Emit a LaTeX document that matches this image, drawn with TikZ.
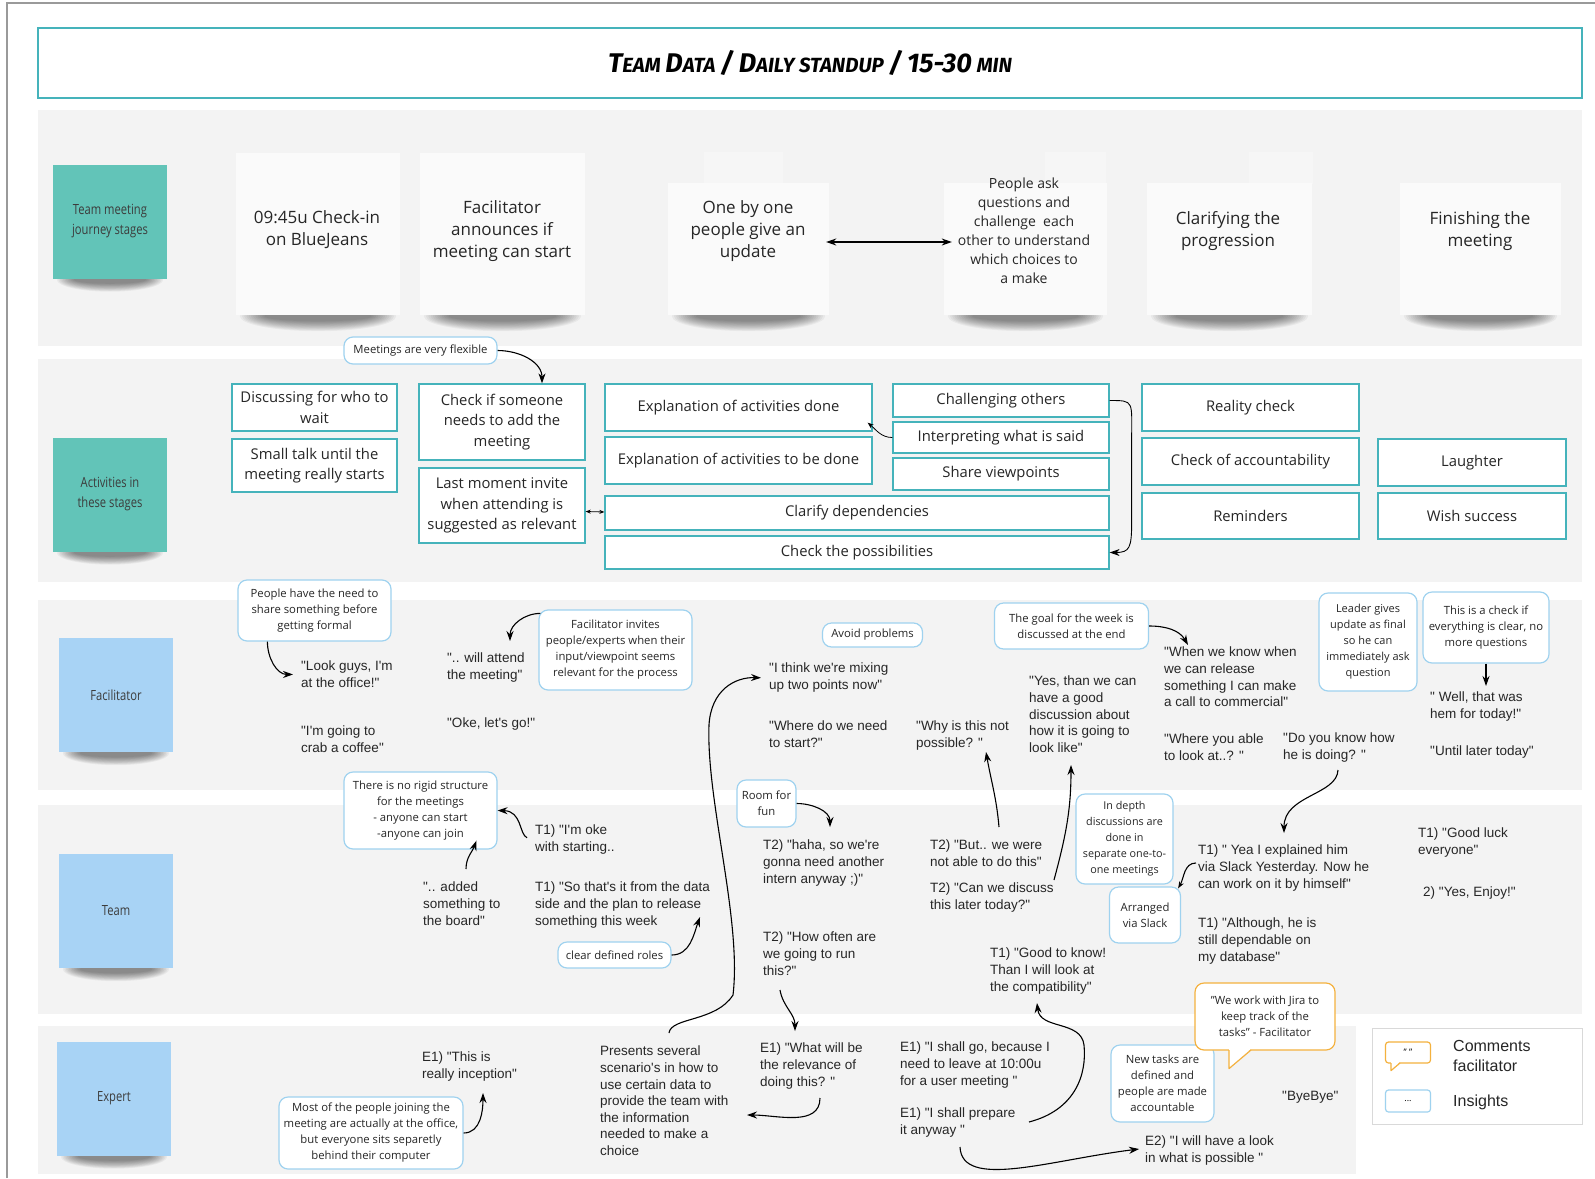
\documentclass[tikz,border=0pt]{standalone}
\usepackage{fontspec}
\setmainfont{Open Sans}
\newfontfamily\quotefont{Liberation Sans}
\newfontfamily\headfont{Fira Sans}
\newfontfamily\notefont[FakeStretch=0.8]{Open Sans}
\usetikzlibrary{arrows.meta,calc}

\definecolor{boxteal}{HTML}{45B3BB}
\definecolor{insightblue}{HTML}{9FD2EF}
\definecolor{noteteal}{HTML}{62C4B8}
\definecolor{noteblue}{HTML}{A8D3F5}
\definecolor{jiraorange}{HTML}{F4B13E}
\definecolor{bandgray}{HTML}{F3F3F3}
\definecolor{cardwhite}{HTML}{FAFAFA}
\definecolor{tabwhite}{HTML}{F6F6F6}
\definecolor{inkc}{HTML}{262626}
\definecolor{framegray}{HTML}{9A9A9A}

\pgfdeclarelayer{bands}
\pgfdeclarelayer{shadows}
\pgfsetlayers{bands,shadows,main}

\newcommand\headbig[1]{{\fontsize{27}{27}\selectfont #1}}
\newcommand\headsmall[1]{{\fontsize{20.5}{20.5}\selectfont #1}}

% soft shadow under the lower edge of a card or sticky note
\newcommand\undershadow[2][13]{%
  \begin{pgfonlayer}{shadows}
    \path let \p1=($(#2.south east)-(#2.south west)$) in
      \pgfextra{\pgfmathsetmacro\shw{0.5*\x1}\global\let\shw\shw}
      coordinate (shc) at ($(#2.south)+(0,1)$);
    \foreach \k in {1,0.94,...,0.3}{%
      \fill[black,opacity=0.045] (shc) ellipse [x radius={\shw*(0.55+0.45*\k)-4}, y radius={#1*\k}];
    }
  \end{pgfonlayer}}

\begin{document}
\begin{tikzpicture}[x=1pt,y=-1pt,
  card/.style={fill=cardwhite, inner sep=0pt},
  cardtext/.style={inner sep=0pt, align=center, text=inkc, font=\fontsize{17}{22}\selectfont},
  note/.style={inner sep=0pt, minimum width=114, minimum height=114, align=center, text=inkc!90, font=\notefont\fontsize{14}{20}\selectfont},
  activity/.style={draw=boxteal, line width=1.3pt, fill=white, inner sep=0pt, align=center, text=inkc, font=\fontsize{14.8}{20.4}\selectfont},
  insight/.style={draw=insightblue, line width=1.2pt, fill=white, rounded corners=9pt, inner sep=0pt, align=center, text=inkc, font=\fontsize{11.3}{16}\selectfont},
  say/.style={anchor=north west, inner sep=0pt, align=left, text=inkc, font=\quotefont\fontsize{13.5}{16.6}\selectfont},
  arr/.style={-{Stealth[length=10pt,width=7pt]}, line width=1.1pt},
  tinyarr/.style={-{Stealth[length=6pt,width=4.5pt]}, line width=0.8pt},
]
\useasboundingbox (0,0) rectangle (1595,1178);

% ---------- background and swimlanes ----------
\begin{pgfonlayer}{bands}
  \fill[white] (0,0) rectangle (1595,1178);
  \fill[bandgray] (38,110) rectangle (1582,346);
  \fill[bandgray] (38,359) rectangle (1582,582);
  \fill[bandgray] (38,600) rectangle (1582,790);
  \fill[bandgray] (38,805) rectangle (1582,1014);
  \fill[bandgray] (38,1026) rectangle (1356,1174);
\end{pgfonlayer}
\draw[framegray, line width=1.2pt] (7,1178) -- (7,3) -- (1595,3);

% ---------- title ----------
\node[draw=boxteal, line width=1.6pt, fill=white, minimum width=1544, minimum height=70, inner sep=0pt,
      font=\headfont\bfseries\itshape\fontsize{21}{24}\selectfont] (title) at (810,63)
  {\headbig{T}\headsmall{EAM} \headbig{D}\headsmall{ATA} \headbig{/} \headbig{D}\headsmall{AILY STANDUP} \headbig{/} \headbig{15-30} \headsmall{MIN}};

% ---------- lane labels ----------
\node[note, fill=noteteal] (n1) at (110,221.5) {Team meeting\\journey stages};
\node[note, fill=noteteal] (n2) at (110,494.5) {Activities in\\these stages};
\node[note, fill=noteblue] (n3) at (116,695) {Facilitator};
\node[note, fill=noteblue] (n4) at (116,911) {Team};
\node[note, fill=noteblue] (n5) at (114,1098.5) {Expert};
\undershadow[12]{n1}
\undershadow[12]{n2}
\undershadow[12]{n3}
\undershadow[12]{n4}
\undershadow[12]{n5}

% ---------- journey stages ----------
\fill[tabwhite] (704,152) rectangle (783,184);
\fill[tabwhite] (1045,152) rectangle (1106,184);
\fill[tabwhite] (1249,152) rectangle (1313,184);
\node[card, minimum width=164, minimum height=162] (c1) at (318,234) {};
\node[card, minimum width=165, minimum height=162] (c2) at (502.5,234) {};
\node[card, minimum width=161, minimum height=132] (c3) at (748.5,249) {};
\node[card, minimum width=163, minimum height=132] (c4) at (1025.5,249) {};
\node[card, minimum width=165, minimum height=132] (c5) at (1229.5,249) {};
\node[card, minimum width=161, minimum height=132] (c6) at (1480.5,249) {};
\undershadow[15]{c1}
\undershadow[15]{c2}
\undershadow[15]{c3}
\undershadow[15]{c4}
\undershadow[15]{c5}
\undershadow[15]{c6}

\node[cardtext] (t1) at (317,230) {09:45u Check-in\\on BlueJeans};
\node[cardtext] (t2) at (502,231) {Facilitator\\announces if\\meeting can start};
\node[cardtext] (t3) at (748,231) {One by one\\people give an\\update};
\node[cardtext, font=\fontsize{14}{19}\selectfont] (t4) at (1024,231)
  {People ask\\questions and\\challenge\ \ each\\other to understand\\which choices to\\a make};
\node[cardtext] (t5) at (1228,231) {Clarifying the\\progression};
\node[cardtext] (t6) at (1480,231) {Finishing the\\meeting};

% ---------- activities ----------
\node[activity, minimum width=165, minimum height=47] (a1) at (314.5,407.5) {Discussing for who to\\wait};
\node[activity, minimum width=165, minimum height=53] (a2) at (314.5,465.5) {Small talk until the\\meeting really starts};
\node[activity, minimum width=166, minimum height=76] (a3) at (502,422) {Check if someone\\needs to add the\\meeting};
\node[activity, minimum width=166, minimum height=75] (a4) at (502,505.5) {Last moment invite\\when attending is\\suggested as relevant};
\node[activity, minimum width=267, minimum height=47] (a5) at (738.5,407.5) {Explanation of activities done};
\node[activity, minimum width=267, minimum height=47] (a6) at (738.5,460.5) {Explanation of activities to be done};
\node[activity, minimum width=216, minimum height=33] (a7) at (1001,400.5) {Challenging others};
\node[activity, minimum width=216, minimum height=31] (a8) at (1001,437.5) {Interpreting what is said};
\node[activity, minimum width=216, minimum height=32] (a9) at (1001,474) {Share viewpoints};
\node[activity, minimum width=504, minimum height=34] (a10) at (857,513) {Clarify dependencies};
\node[activity, minimum width=504, minimum height=33] (a11) at (857,552.5) {Check the possibilities};
\node[activity, minimum width=217, minimum height=47] (a12) at (1250.5,407.5) {Reality check};
\node[activity, minimum width=217, minimum height=47] (a13) at (1250.5,461.5) {Check of accountability};
\node[activity, minimum width=217, minimum height=46] (a14) at (1250.5,516) {Reminders};
\node[activity, minimum width=188, minimum height=47] (a15) at (1472,462.5) {Laughter};
\node[activity, minimum width=188, minimum height=46] (a16) at (1472,516) {Wish success};
\node[insight, minimum width=153, minimum height=27] (i1) at (420.5,350.5) {Meetings are very flexible};

% ---------- facilitator lane ----------
\node[insight, minimum width=153, minimum height=61] (i2) at (314.5,610.5) {People have the need to\\share something before\\getting formal};
\node[insight, minimum width=153, minimum height=80] (i3) at (615.5,650) {Facilitator invites\\people/experts when their\\input/viewpoint seems\\relevant for the process};
\node[insight, minimum width=100, minimum height=24] (i4) at (872.5,635) {Avoid problems};
\node[insight, minimum width=154, minimum height=46] (i5) at (1071.5,626) {The goal for the week is\\discussed at the end};
\node[insight, minimum width=98, minimum height=98, font=\fontsize{11}{16}\selectfont] (i6) at (1368,642) {Leader gives\\update as final\\so he can\\immediately ask\\question};
\node[insight, minimum width=126, minimum height=71] (i7) at (1486,627.5) {This is a check if\\everything is clear, no\\more questions};

\node[say] (qlook) at (301,661) {"Look guys, I'm\\at the office!"};
\node[say] (qcoffee) at (301,726) {"I'm going to\\crab a coffee"};
\node[say] (qattend) at (447,653) {".. will attend\\the meeting"};
\node[say] (qoke) at (447,718) {"Oke, let's go!"};
\node[say] (qmixing) at (769,663) {"I think we're mixing\\up two points now"};
\node[say] (qstart) at (769,721) {"Where do we need\\to start?"};
\node[say] (qwhy) at (916,721) {"Why is this not\\possible? "};
\node[say] (qyes) at (1029,676) {"Yes, than we can\\have a good\\discussion about\\how it is going to\\look like"};
\node[say] (qwhen) at (1164,647) {"When we know when\\we can release\\something I can make\\a call to commercial"};
\node[say] (qable) at (1164,734) {"Where you able\\to look at..? "};
\node[say] (qhow) at (1283,733) {"Do you know how\\he is doing? "};
\node[say] (qwell) at (1430,692) {" Well, that was\\hem for today!"};
\node[say] (quntil) at (1430,746) {"Until later today"};

% ---------- team lane ----------
\node[insight, minimum width=153, minimum height=77] (i8) at (420.5,810.5) {There is no rigid structure\\for the meetings\\- anyone can start\\-anyone can join};
\node[insight, minimum width=113, minimum height=26] (i9) at (614.5,955) {clear defined roles};
\node[insight, minimum width=59, minimum height=47] (i10) at (766.5,803.5) {Room for\\fun};
\node[insight, minimum width=97, minimum height=90, font=\fontsize{10.8}{16}\selectfont] (i11) at (1124.5,839) {In depth\\discussions are\\done in\\separate one-to-\\one meetings};
\node[insight, minimum width=71, minimum height=56] (i12) at (1145,915) {Arranged\\via Slack};

\node[say] (qokay) at (535,825) {T1) "I'm oke\\with starting..};
\node[say] (qadded) at (423,882) {".. added\\something to\\the board"};
\node[say] (qthats) at (535,882) {T1) "So that's it from the data\\side and the plan to release\\something this week};
\node[say] (qhaha) at (763,840) {T2) "haha, so we're\\gonna need another\\intern anyway ;)"};
\node[say] (qoften) at (763,932) {T2) "How often are\\we going to run\\this?"};
\node[say] (qbut) at (930,840) {T2) "But.. we were\\not able to do this"};
\node[say] (qdiscuss) at (930,883) {T2) "Can we discuss\\this later today?"};
\node[say] (qgood) at (990,948) {T1) "Good to know!\\Than I will look at\\the compatibility"};
\node[say] (qyea) at (1198,845) {T1) " Yea I explained him\\via Slack Yesterday. Now he\\can work on it by himself"};
\node[say] (qalthough) at (1198,918) {T1) "Although, he is\\still dependable on\\my database"};
\node[say] (qluck) at (1418,828) {T1) "Good luck\\everyone"};
\node[say] (qenjoy) at (1423,887) {2) "Yes, Enjoy!"};

% ---------- expert lane ----------
\node[insight, minimum width=184, minimum height=72] (i13) at (371,1133) {Most of the people joining the\\meeting are actually at the office,\\but everyone sits separetly\\behind their computer};
\node[insight, minimum width=103, minimum height=77] (i14) at (1162.5,1083.5) {New tasks are\\defined and\\people are made\\accountable};

\node[say] (qinception) at (422,1052) {E1) "This is\\really inception"};
\node[say] (qpresents) at (600,1046) {Presents several\\scenario's in how to\\use certain data to\\provide the team with\\the information\\needed to make a\\choice};
\node[say] (qrelevance) at (760,1043) {E1) "What will be\\the relevance of\\doing this? "};
\node[say] (qshallgo) at (900,1042) {E1) "I shall go, because I\\need to leave at 10:00u\\for a user meeting "};
\node[say] (qprepare) at (900,1108) {E1) "I shall prepare\\it anyway "};
\node[say] (qlookinto) at (1145,1136) {E2) "I will have a look\\in what is possible "};
\node[say] (qbye) at (1282,1091) {"ByeBye"};

\node[draw=jiraorange, line width=1.2pt, fill=white, rounded corners=9pt, minimum width=140, minimum height=67,
      inner sep=0pt, align=center, text=inkc, font=\fontsize{11.3}{16}\selectfont] (jira) at (1265,1016.5)
  {"We work with Jira to\\keep track of the\\tasks" - Facilitator};
\fill[white] ($(jira.south)+(-36,-2)$) -- ($(jira.south)+(-36,18)$) -- ($(jira.south)+(-14,-2)$) -- cycle;
\draw[jiraorange, line width=1.2pt, line join=round] ($(jira.south)+(-36,-0.6)$) -- ($(jira.south)+(-36,18)$) -- ($(jira.south)+(-14,-0.6)$);

% ---------- legend ----------
\node[draw=black!15, line width=1pt, fill=white, minimum width=210, minimum height=96, inner sep=0pt] (legend) at (1477,1076) {};
\node[draw=jiraorange, line width=1.2pt, fill=white, rounded corners=3pt, minimum width=45, minimum height=21,
      inner sep=0pt, font=\fontsize{9}{9}\selectfont] (keyc) at (1408,1052.5) {" "};
\fill[white] ($(keyc.south)+(-17,-2)$) -- ($(keyc.south)+(-17,7)$) -- ($(keyc.south)+(-8,-2)$) -- cycle;
\draw[jiraorange, line width=1.2pt, line join=round] ($(keyc.south)+(-17,-0.6)$) -- ($(keyc.south)+(-17,7)$) -- ($(keyc.south)+(-8,-0.6)$);
\node[draw=insightblue, line width=1.2pt, fill=white, rounded corners=3pt, minimum width=45, minimum height=22,
      inner sep=0pt, font=\fontsize{9}{9}\selectfont] (keyi) at (1408,1101) {...};
\node[say, font=\quotefont\fontsize{16}{20}\selectfont] (keyctext) at (1453,1040) {Comments\\facilitator};
\node[say, font=\quotefont\fontsize{16}{20}\selectfont] (keyitext) at (1453,1095) {Insights};

% ---------- connectors ----------
\draw[{Stealth[length=10pt,width=7pt]}-{Stealth[length=10pt,width=7pt]}, line width=1.1pt]
  ($(c3.east)+(-3,-7)$) -- ($(c4.west)+(8,-7)$);
\draw[arr] (i1.east) to[out=0, in=90] ($(a3.north)+(40,0)$);
\draw[tinyarr] (a8.west) to[out=180, in=-40] ($(a5.south east)+(-5,-9)$);
\draw[arr, line width=0.9pt] (a7.east) .. controls +(25,0) and +(0,-40) .. ($(a7.east)+(22,40)$)
  -- ($(a11.east)+(22,-30)$) .. controls +(0,25) and +(20,0) .. (a11.east);
\draw[{Stealth[length=5pt,width=4pt]}-{Stealth[length=5pt,width=4pt]}, line width=0.8pt]
  ($(a4.east)+(0,6)$) -- ($(a10.west)+(0,-1)$);

\draw[arr] ($(i2.south west)+(30,0)$) to[out=-90, in=180] ($(qlook.west)+(-8,0)$);
\draw[arr] ($(i3.north west)+(2,4)$) to[out=180, in=90] ($(qattend.north west)+(63,-12)$);
\draw[arr] (i5.east) to[out=0, in=120] ($(qwhen.north west)+(24,-2)$);
\draw[arr] (i7.south) -- ($(qwell.north -| i7.south)+(0,-6)$);

\draw[arr] ($(qokay.west)+(-8,-2)$) .. controls (519,834) and (522,811) .. (i8.east);
\draw[arr] ($(qadded.north west)+(43,-13)$) to[out=90, in=-110] ($(i8.south)+(56,-9)$);
\draw[arr] (i9.east) to[out=0, in=-110] ($(qthats.north west)+(165,35)$);
\draw[arr] (i10.east) to[out=0, in=90] ($(qhaha.north west)+(67,-13)$);
\draw[arr] ($(qoften.north west)+(17,58)$) to[out=-80, in=90] ($(qrelevance.north west)+(35,-12)$);
\draw[arr] ($(qbut.north west)+(69,-13)$) to[out=95, in=-80] ($(qwhy.north west)+(70,31)$);
\draw[arr] ($(qdiscuss.north west)+(124,-3)$) to[out=75, in=-90] ($(qyes.north west)+(42,89)$);
\draw[line width=1.1pt, -{Stealth[length=7pt,width=5pt]}] ($(qyea.north west)+(-2,18)$) to[out=180, in=60] ($(i12.north east)+(-3,2)$);
\draw[arr] ($(qhow.north west)+(55,37)$) .. controls (1337,795) and (1284,795) .. ($(qyea.north west)+(86,-12)$);

\draw[arr] (i13.east) to[out=0, in=-90] ($(qinception.north west)+(61,41)$);
\draw[arr] ($(qpresents.north west)+(69,-13)$) .. controls (671,1017) and (716,1022) .. (733,995)
  .. controls (742,920) and (706,800) .. (709,725) .. controls (711,690) and (735,677) .. ($(qmixing.west)+(-8,0)$);
\draw[arr] ($(qrelevance.north west)+(60,55)$) to[out=-90, in=0] ($(qpresents.north west)+(147,69)$);
\draw[arr] ($(qprepare.north west)+(129,14)$) .. controls (1075,1110) and (1087,1075) .. (1084,1045)
  .. controls (1081,1020) and (1040,1030) .. ($(qgood.north west)+(47,55)$);
\draw[arr] ($(qprepare.north west)+(60,39)$) .. controls (962,1190) and (1050,1160) .. ($(qlookinto.north west)+(-6,13)$);
\end{tikzpicture}
\end{document}
